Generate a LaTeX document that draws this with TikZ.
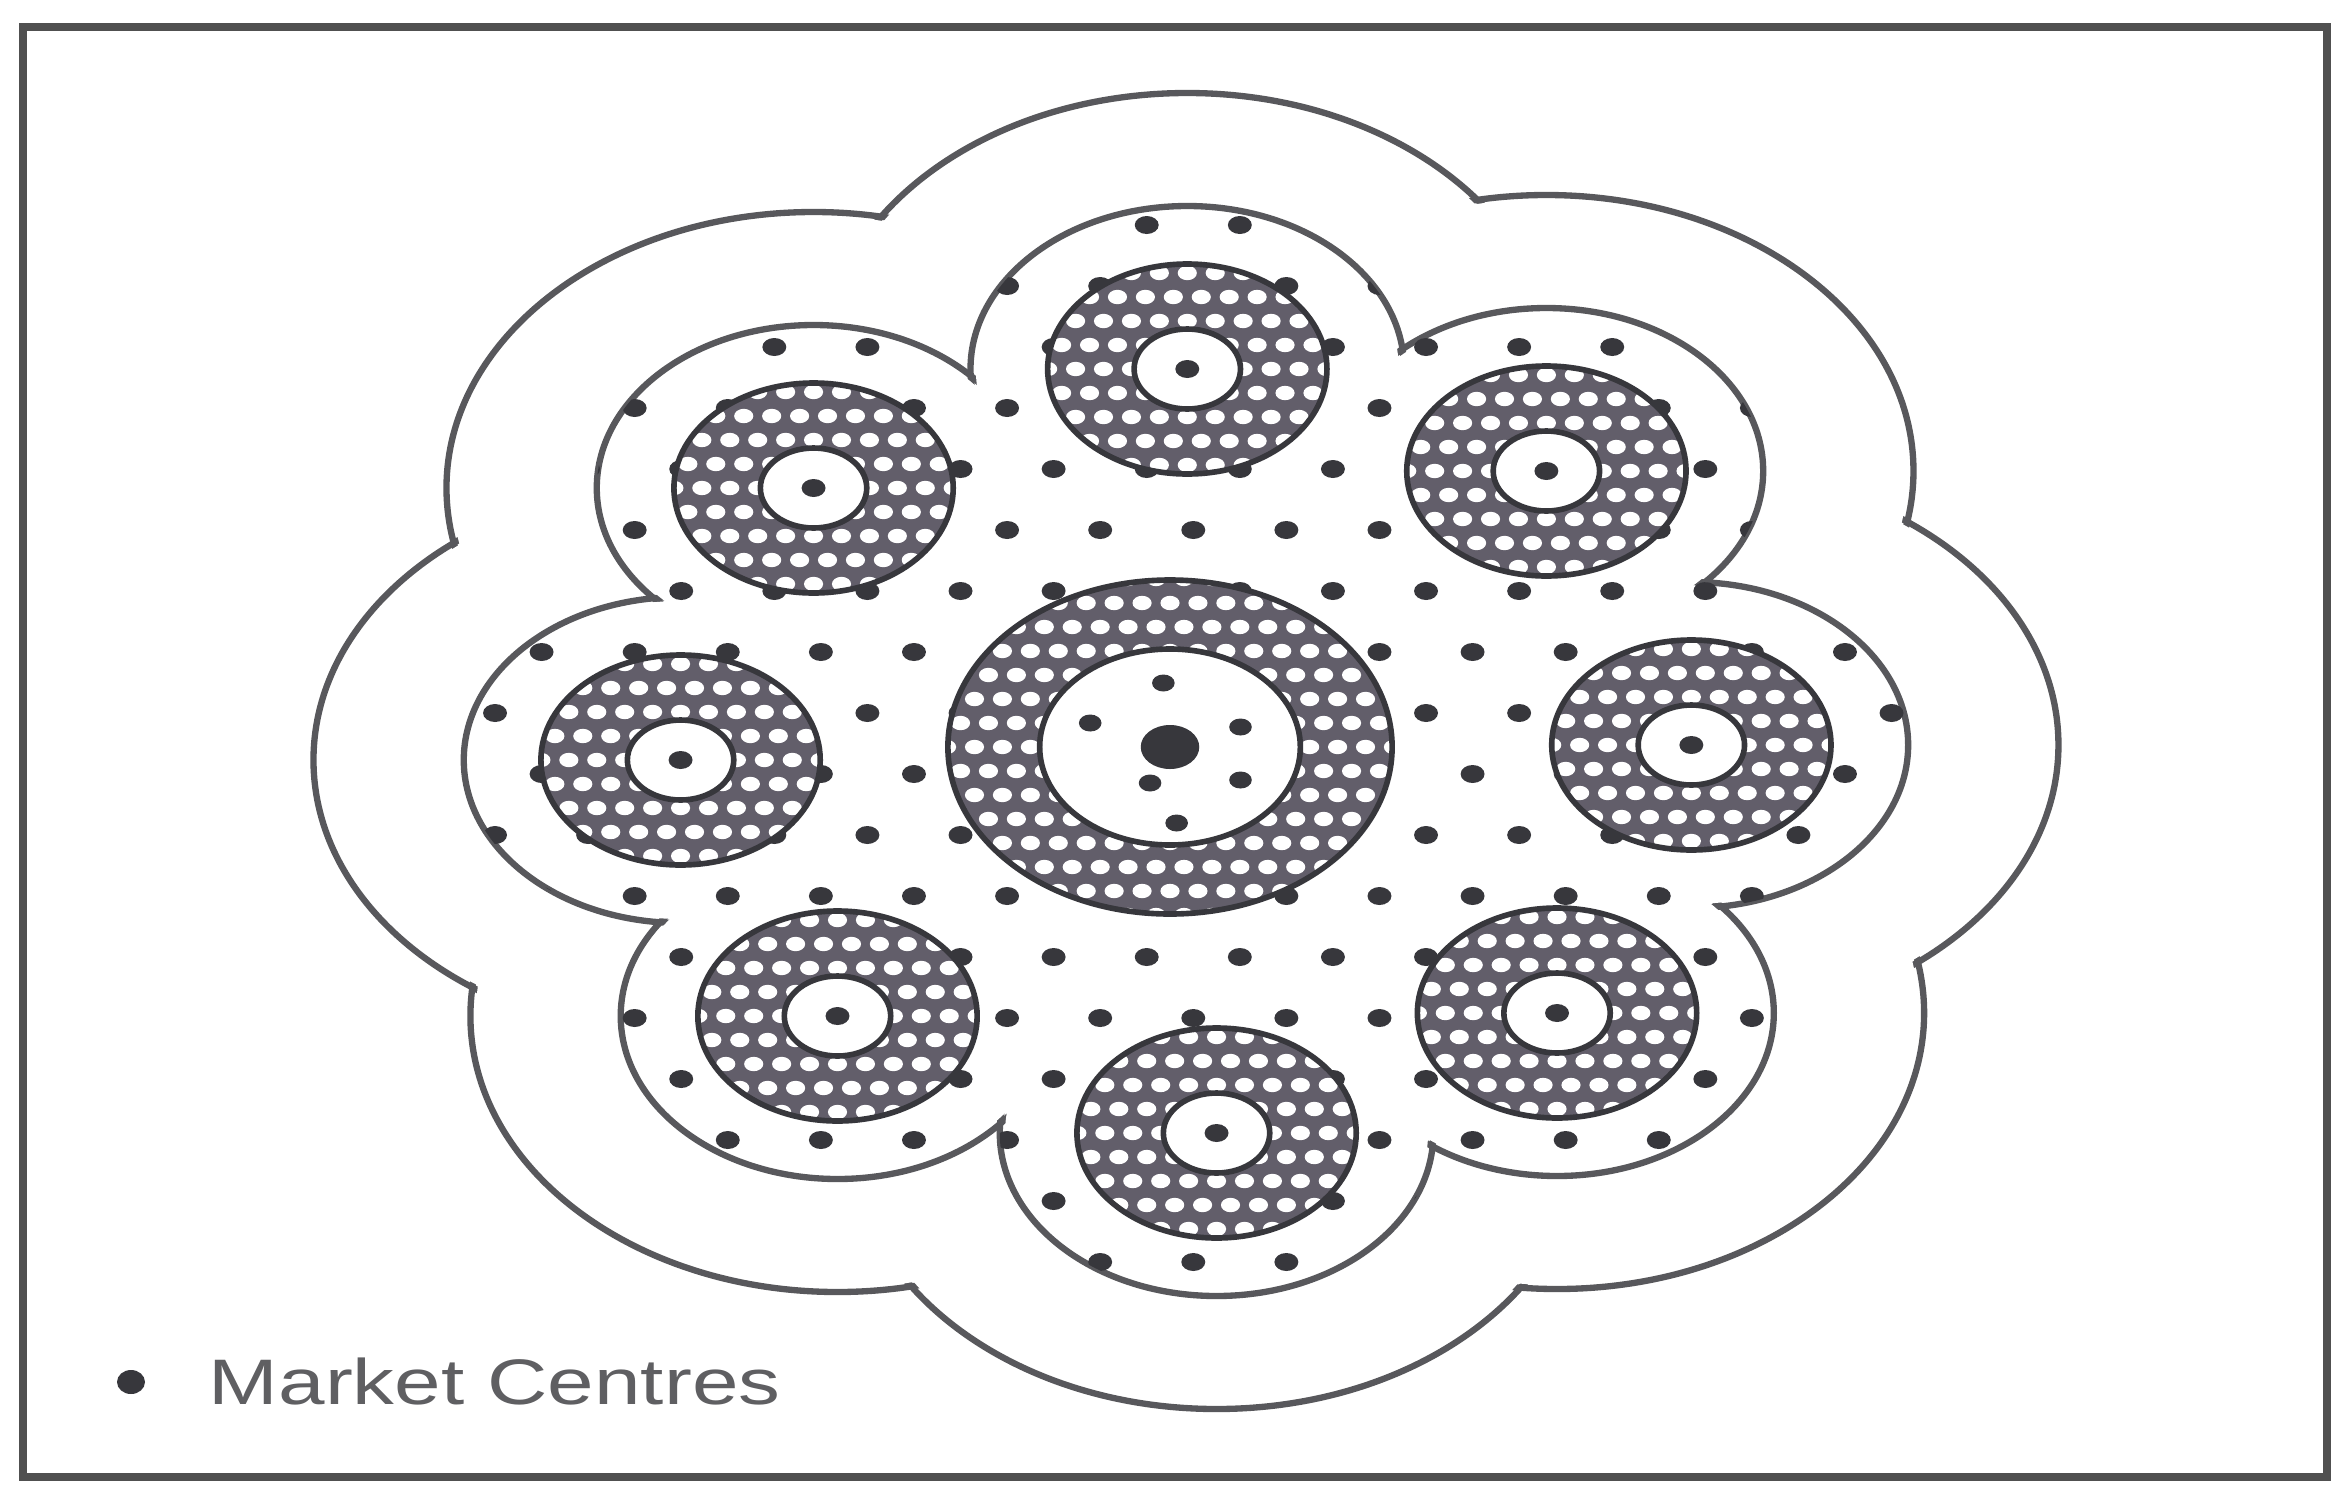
\documentclass[tikz,border=0pt]{standalone}
\usepackage{fontspec}
\setmainfont{Liberation Sans}

\definecolor{linec}{RGB}{88,88,92}
\definecolor{dotc}{RGB}{55,55,60}
\definecolor{ringc}{RGB}{98,94,106}
\definecolor{framec}{RGB}{80,80,80}
\definecolor{textc}{RGB}{95,95,98}

\tikzset{
  zoneline/.style={draw=linec, line width=1.8pt},
  ringline/.style={draw=dotc, line width=1.6pt},
  towndot/.style={fill=dotc}
}

% satellite centres, relative to the main centre (x is stretched later)
\def\satlist{0.13/3.78, 2.83/2.76, 3.92/0.02, 2.91/-2.66, 0.35/-3.86, -2.50/-2.69, -3.68/-0.13, -2.68/2.59}

\begin{document}
\begin{tikzpicture}
  \useasboundingbox (0,0) rectangle (23.35,-14.89);
  \fill[white] (0,0) rectangle (23.35,-14.89);

  \begin{scope}[shift={(11.70,-7.47)}, xscale=1.33]
    % Outer zone: only the outline of the union of the big circles stays
    \foreach \u/\v in \satlist {
      \draw[zoneline] (\u,\v) circle (2.76);
    }
    \fill[white] (0,0) circle (4) foreach \u/\v in \satlist {(\u,\v) circle (2.72)};

    % Inner zone, same trick
    \foreach \u/\v in \satlist {
      \draw[zoneline] (\u,\v) circle (1.63);
    }
    \fill[white] (0,0) circle (3.3) foreach \u/\v in \satlist {(\u,\v) circle (1.59)};

    % Scattered dots inside the inner zone
    \begin{scope}
      \clip (0,0) circle (3.3) foreach \u/\v in \satlist {(\u,\v) circle (1.63)};
      \foreach \k in {-5,...,13} {
        \foreach \j in {-7,...,9} {
          \fill[towndot] ({-1.225+0.7*\j+0.35*mod(\k+6,2)},{2.17-0.61*\k}) circle (0.09);
        }
      }
    \end{scope}

    % Satellite towns: hatched ring, white core, market centre
    \foreach \u/\v in \satlist {
      \fill[ringc] (\u,\v) circle (1.05);
      \begin{scope}
        \clip (\u,\v) circle (1.05);
        \foreach \a in {-5,...,5} {
          \foreach \b in {-5,...,5} {
            \fill[white] ({\u+0.21*\a+0.105*mod(\b+6,2)},{\v+0.24*\b}) circle (0.072);
          }
        }
      \end{scope}
      \fill[white] (\u,\v) circle (0.40);
      \draw[ringline] (\u,\v) circle (1.05) (\u,\v) circle (0.40);
      \fill[towndot] (\u,\v) circle (0.09);
    }

    % Central town
    \fill[ringc] (0,0) circle (1.67);
    \begin{scope}
      \clip (0,0) circle (1.67);
      \foreach \a in {-8,...,8} {
        \foreach \b in {-7,...,7} {
          \fill[white] ({0.21*\a+0.105*mod(\b+8,2)},{0.24*\b}) circle (0.072);
        }
      }
    \end{scope}
    \fill[white] (0,0) circle (0.98);
    \draw[ringline] (0,0) circle (1.67) (0,0) circle (0.98);
    \foreach \p in {(-0.05,0.64),(-0.60,0.24),(0.53,0.20),(-0.15,-0.36),(0.53,-0.33),(0.05,-0.76)} {
      \fill[towndot] \p circle (0.085);
    }
    \fill[towndot] (0,0) circle (0.22);
  \end{scope}

  % Legend
  \fill[towndot] (1.31,-13.82) circle [x radius=0.14, y radius=0.12];
  \node[anchor=west, inner sep=0pt, xscale=1.3, text=textc,
        font=\fontsize{18.3}{20}\selectfont] (legend) at (2.08,-13.81) {Market Centres};

  % Frame
  \draw[framec, line width=2.5pt] (0.23,-0.27) rectangle (23.27,-14.77);
\end{tikzpicture}
\end{document}
